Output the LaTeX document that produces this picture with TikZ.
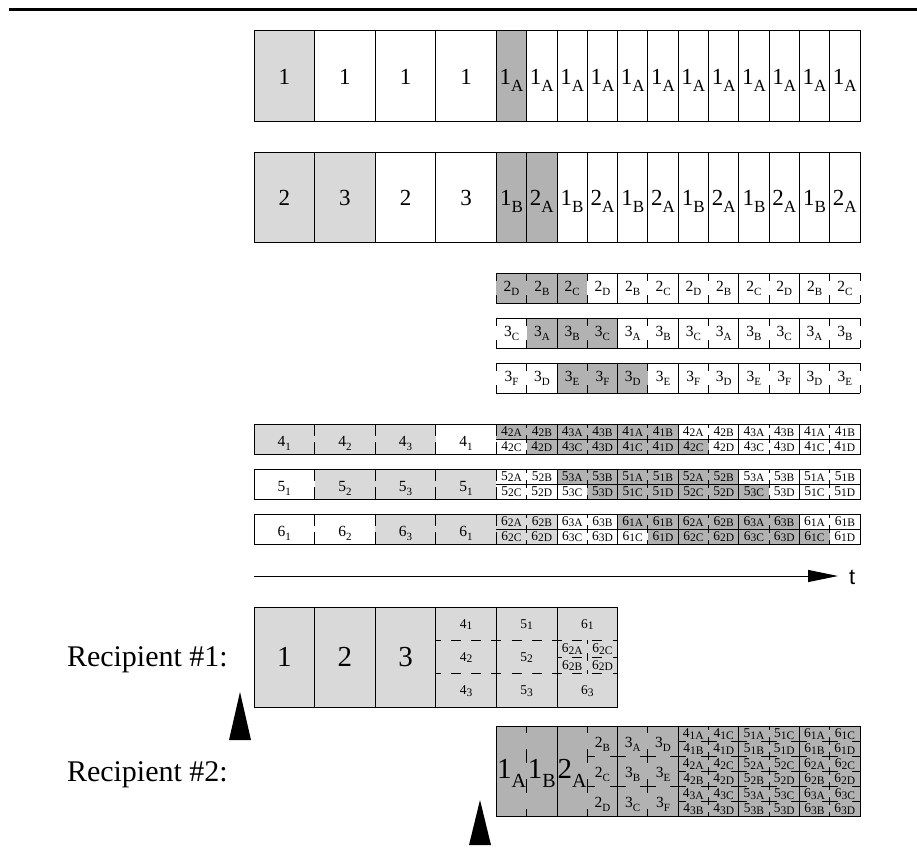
\documentclass[tikz,border=0pt]{standalone}
\usepackage{fontspec}
\setmainfont{Liberation Serif}
\newfontfamily\sansf{Liberation Sans}
\usetikzlibrary{arrows.meta}
\definecolor{lg}{gray}{0.85}
\definecolor{dg}{gray}{0.70}
\newcommand{\LT}[2]{{\fontsize{23}{23}\selectfont #1\raisebox{-7pt}{\fontsize{17}{17}\selectfont #2}}}
\newcommand{\BT}[2]{{\fontsize{29}{29}\selectfont #1\raisebox{-9pt}{\fontsize{20}{20}\selectfont #2}}}
\newcommand{\MT}[2]{{\fontsize{15.5}{15.5}\selectfont #1\raisebox{-4pt}{\fontsize{11}{11}\selectfont #2}}}
\newcommand{\ST}[2]{{\fontsize{13.5}{13.5}\selectfont #1\raisebox{-1.5pt}{\fontsize{11.5}{11.5}\selectfont #2}}}
% rows of 12 small cells (2D, 3C, 3F)
\newcommand{\mrow}[4]{%
 \foreach \s/\cc [count=\k from 0] in {#4} {
   \fill[\cc] ({496.4+30.3*\k},#1) rectangle ++(30.3,30);
 }
 \draw[ln] (496.4,#1) -- (860,#1) (496.4,#1+30) -- (860,#1+30);
 \draw[tk] (496.4,#1) -- ++(0,30);
 \draw[tk] (860,#1) -- ++(0,30);
 \foreach \k in {1,3,...,11} \draw[tk] ({496.4+30.3*\k},#1) -- ++(0,30);
 \foreach \k in {2,4,...,10} \draw[ln] ({496.4+30.3*\k},#1) -- ++(0,30);
 \foreach \s/\cc [count=\k from 0] in {#4} {
   \node[txt] (#2\k) at ({511.55+30.3*\k},#1+18) {\MT{#3}{\s}};
 }
}
% rows with 4 big cells and 12 split small cells (4, 5, 6)
\newcommand{\lrow}[4]{%
 \foreach \cc/\bl [count=\i from 0] in {#3} {
   \fill[\cc] ({254+60.6*\i},#1) rectangle ++(60.6,30);
 }
 \foreach \ct/\cb/\lt/\lb [count=\k from 0] in {#4} {
   \fill[\ct] ({496.4+30.3*\k},#1) rectangle ++(30.3,15);
   \fill[\cb] ({496.4+30.3*\k},#1+15) rectangle ++(30.3,15);
 }
 \draw[ln] (254,#1) rectangle (860,#1+30);
 \draw[ln] (496.4,#1+15) -- (860,#1+15);
 \foreach \x in {314.6,375.2,435.8,496.4} \draw[bt] (\x,#1) -- ++(0,30);
 \foreach \k in {1,3,...,11} \draw[st] ({496.4+30.3*\k},#1) -- ++(0,30);
 \foreach \k in {2,4,...,10} \draw[ln] ({496.4+30.3*\k},#1) -- ++(0,30);
 \foreach \cc/\bl [count=\i from 0] in {#3}
   \node[txt] (b#2\i) at ({284.3+60.6*\i},#1+22) {\MT{#2}{\bl}};
 \foreach \ct/\cb/\lt/\lb [count=\k from 0] in {#4} {
   \node[txt] (t#2\k) at ({511.55+30.3*\k},#1+11) {\ST{#2}{\lt}};
   \node[txt] (u#2\k) at ({511.55+30.3*\k},#1+26) {\ST{#2}{\lb}};
 }
}
\begin{document}
\begin{tikzpicture}[x=1pt,y=-1pt,
  txt/.style={inner sep=0pt,anchor=base},
  ln/.style={line width=1pt},
  tk/.style={line width=1pt,dash pattern=on 8pt off 14pt on 8pt off 100pt},
  bt/.style={line width=1pt,dash pattern=on 12pt off 6pt on 12pt off 100pt},
  st/.style={line width=1pt,dash pattern=on 8pt off 7pt,dash phase=4pt},
  vd/.style={line width=1pt,dash pattern=on 14pt off 16pt,dash phase=7pt},
  hd/.style={line width=1pt,dash pattern=on 16pt off 14.3pt,dash phase=8pt},
  rd/.style={line width=1pt,dash pattern=on 10pt off 10.2pt,dash phase=5pt},
  cd/.style={line width=1pt,dash pattern=on 8pt off 8.7pt,dash phase=4pt}]
\useasboundingbox (0,0) rectangle (917,859);
% top rule
\draw[line width=3pt] (9,9.5) -- (917,9.5);

% ---- row 1
\fill[lg] (254,31) rectangle (314.6,121);
\fill[dg] (496.4,31) rectangle (526.7,121);
\draw[ln] (254,31) rectangle (860,121);
\foreach \x in {314.6,375.2,435.8} \draw[ln] (\x,31) -- (\x,121);
\foreach \k in {0,...,11} \draw[ln] ({496.4+30.3*\k},31) -- ++(0,90);
\foreach \i in {0,...,3} \node[txt] (ra\i) at ({284.3+60.6*\i},84) {\LT{1}{}};
\foreach \k in {0,...,11} \node[txt] (ras\k) at ({511.55+30.3*\k},84) {\LT{1}{A}};

% ---- row 2
\fill[lg] (254,152) rectangle (375.2,242);
\fill[dg] (496.4,152) rectangle (557,242);
\draw[ln] (254,152) rectangle (860,242);
\foreach \x in {314.6,375.2,435.8} \draw[ln] (\x,152) -- (\x,242);
\foreach \k in {0,...,11} \draw[ln] ({496.4+30.3*\k},152) -- ++(0,90);
\foreach \l [count=\i from 0] in {2,3,2,3} \node[txt] (rb\i) at ({284.3+60.6*\i},205) {\LT{\l}{}};
\foreach \a/\b [count=\k from 0] in {1/B,2/A,1/B,2/A,1/B,2/A,1/B,2/A,1/B,2/A,1/B,2/A}
  \node[txt] (rbs\k) at ({511.55+30.3*\k},205) {\LT{\a}{\b}};

% ---- rows 2D, 3C, 3F
\mrow{273}{rc}{2}{D/dg,B/dg,C/dg,D/white,B/white,C/white,D/white,B/white,C/white,D/white,B/white,C/white}
\mrow{318}{rd}{3}{C/white,A/dg,B/dg,C/dg,A/white,B/white,C/white,A/white,B/white,C/white,A/white,B/white}
\mrow{363}{re}{3}{F/white,D/white,E/dg,F/dg,D/dg,E/white,F/white,D/white,E/white,F/white,D/white,E/white}

% ---- rows 4, 5, 6
\lrow{424}{4}{lg/1,lg/2,lg/3,white/1}{dg/white/2A/2C,dg/dg/2B/2D,dg/dg/3A/3C,dg/dg/3B/3D,dg/dg/1A/1C,dg/dg/1B/1D,white/dg/2A/2C,white/white/2B/2D,white/white/3A/3C,white/white/3B/3D,white/white/1A/1C,white/white/1B/1D}
\lrow{469}{5}{white/1,lg/2,lg/3,lg/1}{white/white/2A/2C,white/white/2B/2D,dg/white/3A/3C,dg/dg/3B/3D,dg/dg/1A/1C,dg/dg/1B/1D,dg/dg/2A/2C,dg/dg/2B/2D,white/dg/3A/3C,white/white/3B/3D,white/white/1A/1C,white/white/1B/1D}
\lrow{514}{6}{white/1,white/2,lg/3,lg/1}{lg/lg/2A/2C,lg/lg/2B/2D,white/white/3A/3C,white/white/3B/3D,dg/white/1A/1C,dg/dg/1B/1D,dg/dg/2A/2C,dg/dg/2B/2D,dg/dg/3A/3C,dg/dg/3B/3D,white/dg/1A/1C,white/white/1B/1D}

% ---- time axis
\coordinate (tstart) at (254,576);
\coordinate (tend) at (838,576);
\draw[ln,-{Triangle[length=30pt,width=12pt]}] (tstart) -- (tend);
\node[anchor=base west,inner sep=0pt] (tlab) at (849,584) {\sansf\fontsize{22}{22}\selectfont t};

% ---- recipient 1
\node[anchor=base east,inner sep=0pt] (rec1) at (228,666) {\fontsize{30}{30}\selectfont Recipient \#1:};
\fill[lg] (254,607) rectangle (617.6,707);
\draw[ln] (254,607) rectangle (617.6,707);
\foreach \x in {314.6,375.2,435.8,496.4,557} \draw[ln] (\x,607) -- (\x,707);
\foreach \x in {435.8,496.4,557} {
  \draw[rd] (\x,640.3) -- ++(60.6,0);
  \draw[rd] (\x,673.7) -- ++(60.6,0);
}
\draw[rd] (557,657) -- ++(60.6,0);
\draw[cd] (587.3,640.3) -- (587.3,673.7);
\foreach \l [count=\i from 0] in {1,2,3}
  \node[txt] (pa\i) at ({284.3+60.6*\i},666) {\BT{\l}{}};
\foreach \d [count=\j from 0] in {4,5} {
  \foreach \s [count=\r from 0] in {1,2,3}
    \node[txt] (pb\d\r) at ({466.1+60.6*\j},{628+33.3*\r}) {\ST{\d}{\s}};
}
\node[txt] (pc0) at (587.3,628) {\ST{6}{1}};
\node[txt] (pc1) at (587.3,694.6) {\ST{6}{3}};
\node[txt] (pc2) at (572.15,652.5) {\ST{6}{2A}};
\node[txt] (pc3) at (602.45,652.5) {\ST{6}{2C}};
\node[txt] (pc4) at (572.15,669) {\ST{6}{2B}};
\node[txt] (pc5) at (602.45,669) {\ST{6}{2D}};
\fill (240,692) -- (251,740) -- (229,740) -- cycle;

% ---- recipient 2
\node[anchor=base east,inner sep=0pt] (rec2) at (228,781) {\fontsize{30}{30}\selectfont Recipient \#2:};
\fill[dg] (496.4,726) rectangle (860,816);
\draw[ln] (496.4,726) rectangle (860,816);
\foreach \x in {557,617.6,678.2,738.8,799.4} \draw[ln] (\x,726) -- (\x,816);
\foreach \x in {526.7,587.3,647.9} \draw[vd] (\x,726) -- (\x,816);
\foreach \y in {756,786} \draw[hd] (587.3,\y) -- (678.2,\y);
\foreach \y in {741,756,771,786,801} \draw[hd] (678.2,\y) -- (860,\y);
\foreach \x in {708.5,769.1,829.7} \draw[st] (\x,726) -- (\x,816);
\node[txt] (qa0) at (511.55,778) {\BT{1}{A}};
\node[txt] (qa1) at (541.85,778) {\BT{1}{B}};
\node[txt] (qa2) at (572.15,778) {\BT{2}{A}};
\foreach \s [count=\r from 0] in {B,C,D}
  \node[txt] (qb\r) at (602.45,{747+30*\r}) {\MT{2}{\s}};
\foreach \s/\t [count=\r from 0] in {A/D,B/E,C/F} {
  \node[txt] (qc\r) at (632.75,{747+30*\r}) {\MT{3}{\s}};
  \node[txt] (qd\r) at (663.05,{747+30*\r}) {\MT{3}{\t}};
}
\foreach \d [count=\j from 0] in {4,5,6} {
  \foreach \lt/\rt [count=\r from 0] in {1A/1C,1B/1D,2A/2C,2B/2D,3A/3C,3B/3D} {
    \node[txt] (ql\d\r) at ({693.35+60.6*\j},{737.5+15*\r}) {\ST{\d}{\lt}};
    \node[txt] (qr\d\r) at ({723.65+60.6*\j},{737.5+15*\r}) {\ST{\d}{\rt}};
  }
}
\fill (480,800) -- (491,845) -- (469,845) -- cycle;
\end{tikzpicture}
\end{document}
